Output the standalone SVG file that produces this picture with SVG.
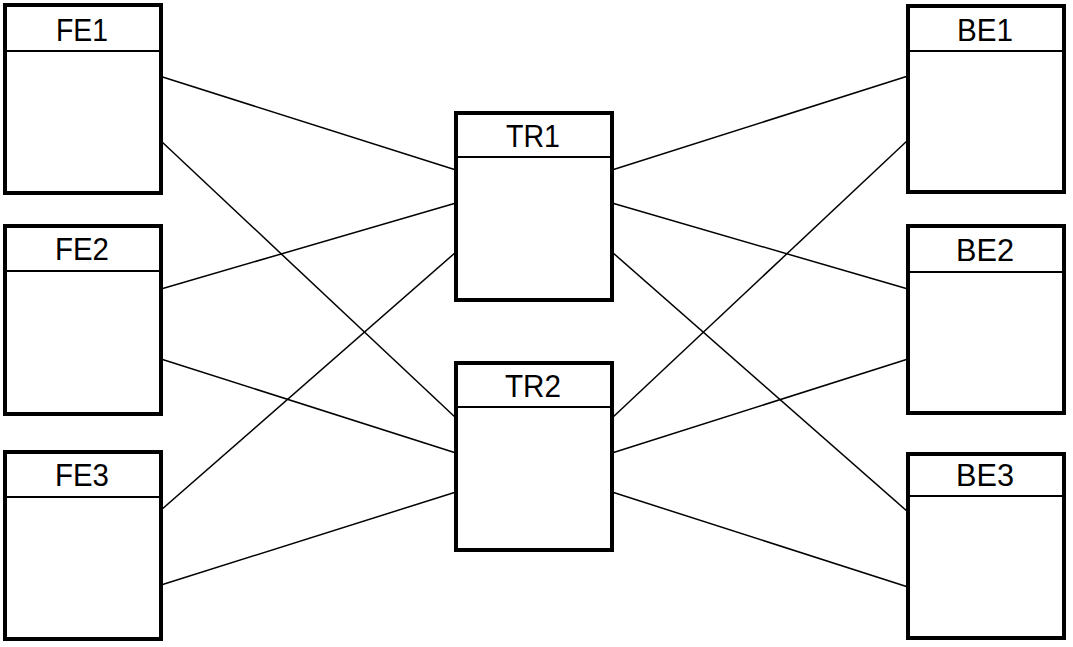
<svg xmlns="http://www.w3.org/2000/svg" width="1073" height="647" viewBox="0 0 1073 647">
<style>
.box{fill:#fff;stroke:#000;stroke-width:4}
.hdr{stroke:#000;stroke-width:2}
.lbl{font-family:"Liberation Sans",Arial,sans-serif;font-size:31.5px;fill:#000;text-anchor:middle}
.conn line{stroke:#000;stroke-width:1.5}
</style>
<rect width="1073" height="647" fill="#fff"/>
<g id="connectors" class="conn">
<line x1="161" y1="76.5" x2="456" y2="170"/>
<line x1="161" y1="141" x2="456" y2="418"/>
<line x1="161" y1="289" x2="456" y2="203"/>
<line x1="161" y1="359" x2="456" y2="453"/>
<line x1="161" y1="510" x2="456" y2="252"/>
<line x1="161" y1="585" x2="456" y2="492"/>
<line x1="612" y1="170" x2="908" y2="76"/>
<line x1="612" y1="203" x2="908" y2="289"/>
<line x1="612" y1="252" x2="908" y2="512"/>
<line x1="612" y1="418" x2="908" y2="140"/>
<line x1="612" y1="453" x2="908" y2="359"/>
<line x1="612" y1="492" x2="908" y2="587"/>
</g>
<g id="FE1"><rect class="box" x="5" y="5" width="156" height="188"/><line class="hdr" x1="5" y1="51" x2="161" y2="51"/><text class="lbl" x="82" y="41" textLength="52" lengthAdjust="spacingAndGlyphs">FE1</text></g>
<g id="FE2"><rect class="box" x="5" y="226" width="156" height="188"/><line class="hdr" x1="5" y1="271" x2="161" y2="271"/><text class="lbl" x="82" y="260" textLength="54" lengthAdjust="spacingAndGlyphs">FE2</text></g>
<g id="FE3"><rect class="box" x="5" y="452" width="156" height="187"/><line class="hdr" x1="5" y1="497" x2="161" y2="497"/><text class="lbl" x="82" y="486" textLength="54" lengthAdjust="spacingAndGlyphs">FE3</text></g>
<g id="TR1"><rect class="box" x="456" y="113" width="156" height="187"/><line class="hdr" x1="456" y1="157" x2="612" y2="157"/><text class="lbl" x="533" y="147" textLength="54" lengthAdjust="spacingAndGlyphs">TR1</text></g>
<g id="TR2"><rect class="box" x="456" y="363" width="156" height="187"/><line class="hdr" x1="456" y1="407" x2="612" y2="407"/><text class="lbl" x="533" y="397" textLength="56" lengthAdjust="spacingAndGlyphs">TR2</text></g>
<g id="BE1"><rect class="box" x="908" y="6" width="156" height="186"/><line class="hdr" x1="908" y1="51" x2="1064" y2="51"/><text class="lbl" x="985" y="41" textLength="56" lengthAdjust="spacingAndGlyphs">BE1</text></g>
<g id="BE2"><rect class="box" x="908" y="226" width="156" height="187"/><line class="hdr" x1="908" y1="272" x2="1064" y2="272"/><text class="lbl" x="985" y="261" textLength="58" lengthAdjust="spacingAndGlyphs">BE2</text></g>
<g id="BE3"><rect class="box" x="908" y="454" width="156" height="184"/><line class="hdr" x1="908" y1="496" x2="1064" y2="496"/><text class="lbl" x="985" y="486" textLength="58" lengthAdjust="spacingAndGlyphs">BE3</text></g>
</svg>
